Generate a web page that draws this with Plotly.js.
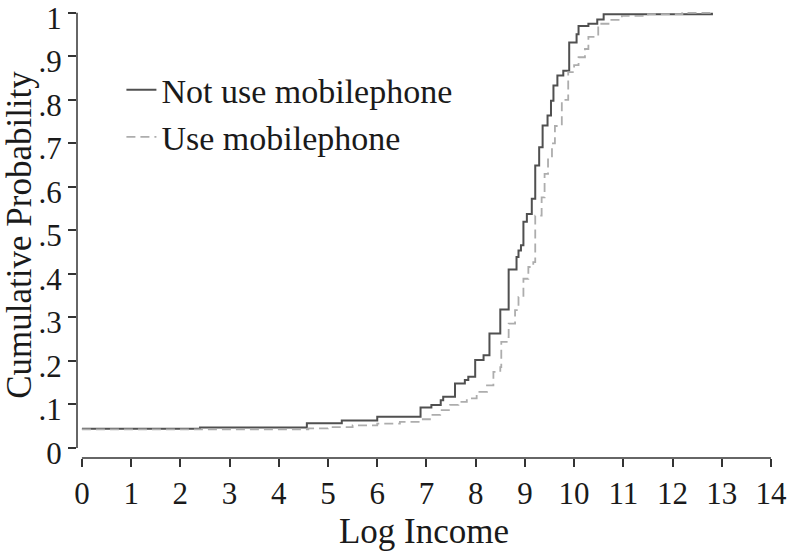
<!DOCTYPE html>
<html>
<head>
<meta charset="utf-8">
<script src="https://cdn.plot.ly/plotly-3.0.1.min.js"></script>
<style>
  html, body { margin: 0; padding: 0; background: #fff; }
  #plot { width: 788px; height: 555px; }
</style>
</head>
<body>
<div id="plot"></div>
<script>
let incomeNoPhone = [0, 2.4, 4.57, 5.28, 6.0, 6.88, 7.1, 7.29, 7.34, 7.58, 7.78, 7.85, 7.99, 8.16, 8.28, 8.50, 8.67, 8.83, 8.87, 8.92, 8.97, 9.04, 9.14, 9.21, 9.29, 9.36, 9.46, 9.53, 9.58, 9.66, 9.78, 9.90, 10.05, 10.09, 10.29, 10.47, 10.60, 12.8];
let cdfNoPhone = [0.044, 0.047, 0.057, 0.063, 0.072, 0.093, 0.099, 0.110, 0.118, 0.148, 0.156, 0.164, 0.202, 0.213, 0.263, 0.318, 0.410, 0.439, 0.454, 0.466, 0.52, 0.538, 0.573, 0.649, 0.691, 0.741, 0.764, 0.798, 0.833, 0.856, 0.867, 0.932, 0.951, 0.970, 0.975, 0.985, 0.997, 1.0];

let incomePhone = [0, 4.6, 5.0, 5.5, 6.0, 6.46, 6.87, 7.07, 7.28, 7.48, 7.65, 7.82, 8.02, 8.23, 8.36, 8.50, 8.52, 8.63, 8.67, 8.80, 8.87, 8.97, 9.07, 9.17, 9.21, 9.34, 9.40, 9.47, 9.55, 9.61, 9.75, 9.88, 10.0, 10.09, 10.22, 10.29, 10.49, 10.73, 10.97, 11.5, 12.2, 12.8];
let cdfPhone = [0.043, 0.045, 0.048, 0.052, 0.056, 0.060, 0.066, 0.076, 0.087, 0.099, 0.106, 0.114, 0.129, 0.144, 0.175, 0.186, 0.244, 0.255, 0.286, 0.317, 0.347, 0.389, 0.416, 0.427, 0.534, 0.576, 0.63, 0.67, 0.70, 0.74, 0.80, 0.864, 0.88, 0.898, 0.917, 0.945, 0.975, 0.984, 0.993, 0.997, 1.0, 1.0];

let xTicks = [0, 1, 2, 3, 4, 5, 6, 7, 8, 9, 10, 11, 12, 13, 14];
let yTicks = [0, 0.1, 0.2, 0.3, 0.4, 0.5, 0.6, 0.7, 0.8, 0.9, 1];
let yTickText = ["0", ".1", ".2", ".3", ".4", ".5", ".6", ".7", ".8", ".9", "1"];

let serif = "Liberation Serif, Times New Roman, serif";

let traceNoPhone = {
    x: incomeNoPhone,
    y: cdfNoPhone,
    mode: "lines",
    name: "Not use mobilephone",
    type: "scatter",
    line: {shape: "hv", color: "#505050", width: 2}
};
let tracePhone = {
    x: incomePhone,
    y: cdfPhone,
    mode: "lines",
    name: "Use mobilephone",
    type: "scatter",
    line: {shape: "hv", color: "#adadad", width: 1.8, dash: "9px,5px"}
};

let layout = {
    width: 788,
    height: 555,
    margin: {l: 77, r: 17, t: 12, b: 97},
    paper_bgcolor: "#fff",
    plot_bgcolor: "#fff",
    font: {family: serif, size: 30, color: "#1a1a1a"},
    showlegend: true,
    legend: {
        x: 0.064, y: 0.89, xanchor: "left", yanchor: "top",
        bgcolor: "rgba(0,0,0,0)",
        font: {family: serif, size: 34, color: "#1a1a1a"},
        tracegroupgap: 0
    },
    xaxis: {
        range: [-0.1, 14],
        tickvals: xTicks,
        ticks: "outside", ticklen: 8, tickwidth: 1.5, tickcolor: "#333",
        showline: false, showgrid: false, zeroline: false,
        ticklabeloverflow: "allow",
        tickfont: {family: serif, size: 31, color: "#1a1a1a"},
        title: {text: "Log Income", font: {family: serif, size: 35, color: "#1a1a1a"}, standoff: 8}
    },
    yaxis: {
        range: [-0.023, 1.002],
        tickvals: yTicks,
        ticktext: yTickText,
        ticks: "outside", ticklen: 8, tickwidth: 1.5, tickcolor: "#333",
        showline: false, showgrid: false, zeroline: false,
        ticklabeloverflow: "allow",
        ticklabelshift: 5,
        tickfont: {family: serif, size: 31, color: "#1a1a1a"},
        title: {text: "Cumulative Probability", font: {family: serif, size: 35, color: "#1a1a1a"}, standoff: 4}
    },
    shapes: [
        {type: "line", xref: "paper", yref: "y", x0: 0, x1: 0, y0: 0, y1: 1, line: {color: "#333", width: 1.5}},
        {type: "line", xref: "x", yref: "paper", x0: 0, x1: 14, y0: 0, y1: 0, line: {color: "#333", width: 1.5}}
    ]
};

Plotly.newPlot("plot", [traceNoPhone, tracePhone], layout, {displayModeBar: false});
</script>
</body>
</html>
